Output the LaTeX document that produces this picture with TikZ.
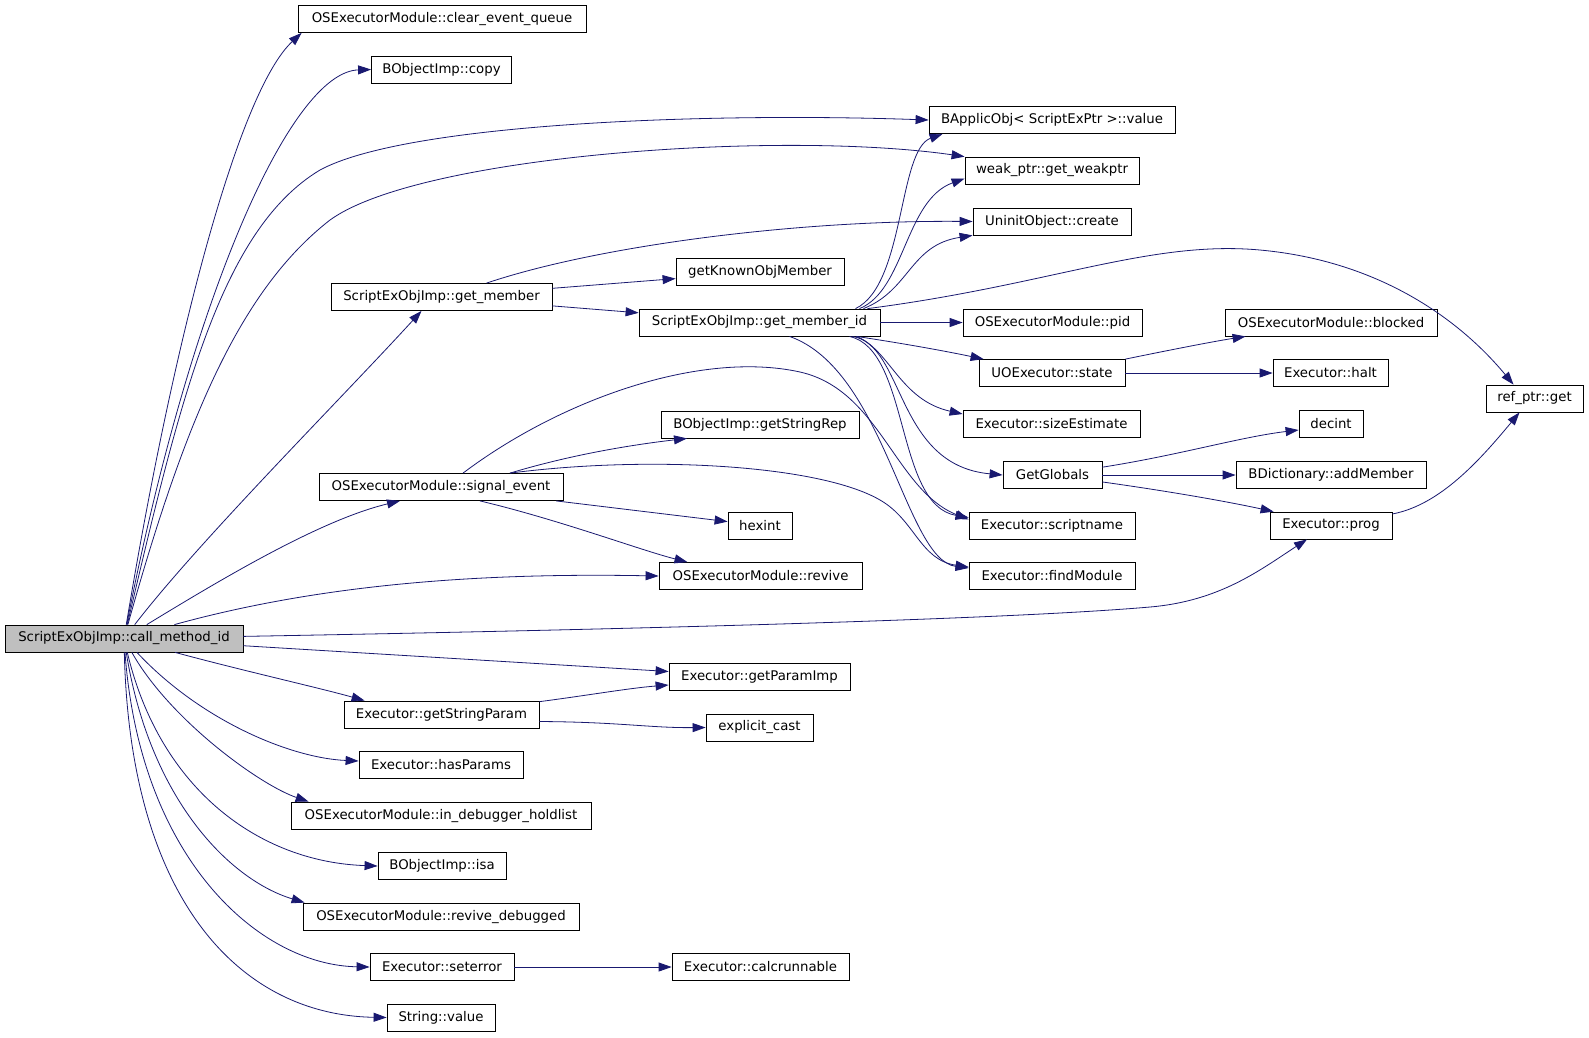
\documentclass[tikz,border=0pt]{standalone}
\usepackage{fontspec}
\setmainfont{DejaVu Sans}
\usetikzlibrary{arrows.meta}
\definecolor{edgeblue}{HTML}{191970}

\begin{document}
\begin{tikzpicture}[x=1pt,y=-1pt,
  fn/.style={draw,fill=white,line width=0.8pt,minimum width=#1pt,minimum height=27pt,
    inner sep=0pt,font=\fontsize{13.3}{16}\selectfont},
  calls/.style={draw=edgeblue,line width=0.8pt,-{Triangle[length=13pt,width=9pt]}}]

\path[use as bounding box,fill=white] (0,0) rectangle (1589,1037);

% column 1 and 2
\node[fn=238,fill=black!25] (cm) at (124,638.5) {ScriptExObjImp::call\_method\_id};
\node[fn=288] (clrq)     at (442,19)    {OSExecutorModule::clear\_event\_queue};
\node[fn=140] (copy)     at (441.5,69.5) {BObjectImp::copy};
\node[fn=221] (getm)     at (441.5,297) {ScriptExObjImp::get\_member};
\node[fn=244] (sigev)    at (441,487)   {OSExecutorModule::signal\_event};
\node[fn=195] (strparam) at (441.5,714.5) {Executor::getStringParam};
\node[fn=164] (hasparam) at (441,765)   {Executor::hasParams};
\node[fn=300] (holdlist) at (441,815.5) {OSExecutorModule::in\_debugger\_holdlist};
\node[fn=128] (isa)      at (442,866)   {BObjectImp::isa};
\node[fn=276] (revdbg)   at (441,916.5) {OSExecutorModule::revive\_debugged};
\node[fn=144] (seterr)   at (442,967)   {Executor::seterror};
\node[fn=108] (strval)   at (441,1017.5) {String::value};

% column 3
\node[fn=168] (gkom)    at (760,272)   {getKnownObjMember};
\node[fn=241] (getmid)  at (759.5,322.5) {ScriptExObjImp::get\_member\_id};
\node[fn=198] (strrep)  at (760,424.5) {BObjectImp::getStringRep};
\node[fn=64]  (hexint)  at (760,525.5) {hexint};
\node[fn=203] (revive)  at (760.5,576) {OSExecutorModule::revive};
\node[fn=181] (parimp)  at (759.5,677) {Executor::getParamImp};
\node[fn=107] (xcast)   at (759.5,727.5) {explicit\_cast};
\node[fn=177] (calcrun) at (760.5,967) {Executor::calcrunnable};

% column 4
\node[fn=246] (bval)    at (1052,120)   {BApplicObj< ScriptExPtr >::value};
\node[fn=174] (wptr)    at (1052,170.5) {weak\_ptr::get\_weakptr};
\node[fn=158] (uninit)  at (1052,221.5) {UninitObject::create};
\node[fn=179] (pid)     at (1052.5,322.5) {OSExecutorModule::pid};
\node[fn=146] (state)   at (1052,373)   {UOExecutor::state};
\node[fn=177] (sizeest) at (1051.5,424) {Executor::sizeEstimate};
\node[fn=99]  (globals) at (1052.5,475) {GetGlobals};
\node[fn=166] (scrname) at (1052,525.5) {Executor::scriptname};
\node[fn=166] (findmod) at (1052,576)   {Executor::findModule};

% column 5 and 6
\node[fn=212] (blocked) at (1331,322.5) {OSExecutorModule::blocked};
\node[fn=115] (halt)    at (1330.5,373) {Executor::halt};
\node[fn=64]  (decint)  at (1331,424)   {decint};
\node[fn=190] (addmem)  at (1331,475)   {BDictionary::addMember};
\node[fn=122] (prog)    at (1331,525.5) {Executor::prog};
\node[fn=97]  (refget)  at (1534.5,398.5) {ref\_ptr::get};

% calls from call_method_id
\draw[calls] (cm) .. controls (175,330) and (240,90) .. ([xshift=4]clrq.south west);
\draw[calls] (cm) .. controls (190,300) and (290,72) .. (copy.west);
\draw[calls] (cm) .. controls (180,400) and (220,230) .. (320,170)
   .. controls (405,124) and (700,112) .. (bval.west);
\draw[calls] (cm) .. controls (185,420) and (240,290) .. (330,220)
   .. controls (420,155) and (780,130) .. (wptr.north west);
\draw[calls] (cm) .. controls (200,540) and (340,400) .. ([xshift=-20]getm.south);
\draw[calls] (cm) .. controls (220,580) and (320,520) .. ([xshift=-41]sigev.south);
\draw[calls] (cm) .. controls (300,590) and (450,572) .. (revive.west);
\draw[calls] (cm) .. controls (600,630) and (1000,620) .. (1150,607)
   .. controls (1220,601) and (1260,570) .. ([xshift=-24]prog.south);
\draw[calls] (cm) -- (parimp);
\draw[calls] (cm) .. controls (240,670) and (320,688) .. ([xshift=21]strparam.north west);
\draw[calls] (cm) .. controls (200,720) and (290,758) .. ([yshift=4]hasparam.west);
\draw[calls] (cm) .. controls (170,720) and (260,785) .. ([xshift=18]holdlist.north west);
\draw[calls] (cm) .. controls (160,790) and (260,862) .. (isa.west);
\draw[calls] (cm) .. controls (150,800) and (230,880) .. ([xshift=2]revdbg.north west);
\draw[calls] (cm) .. controls (140,860) and (260,965) .. (seterr.west);
\draw[calls] (cm) .. controls (130,900) and (240,1015) .. (strval.west);

% calls from get_member
\draw[calls] ([xshift=45]getm.north) .. controls (600,245) and (800,220) .. (uninit.west);
\draw[calls] (getm) -- (gkom);
\draw[calls] (getm) -- (getmid);

% calls from get_member_id
\draw[calls] (getmid) -- (pid);
\draw[calls] ([xshift=96]getmid.north) .. controls (905,285) and (898,150) .. ([xshift=14]bval.south west);
\draw[calls] ([xshift=100]getmid.north) .. controls (905,290) and (905,200) .. ([yshift=-8]wptr.west);
\draw[calls] ([xshift=104]getmid.north) .. controls (910,290) and (910,245) .. (uninit.south west);
\draw[calls] ([xshift=108]getmid.north) .. controls (1050,285) and (1150,240) .. (1260,250)
   .. controls (1380,261) and (1460,320) .. ([xshift=-21]refget.north);
\draw[calls] ([xshift=97]getmid.south) .. controls (900,343) and (940,350) .. ([xshift=5]state.north west);
\draw[calls] ([xshift=97]getmid.south) .. controls (890,350) and (900,400) .. ([yshift=10]sizeest.west);
\draw[calls] ([xshift=93]getmid.south) .. controls (905,345) and (895,465) .. (globals.west);
\draw[calls] ([xshift=90]getmid.south) .. controls (910,350) and (895,505) .. ([yshift=8]scrname.west);
\draw[calls] ([xshift=30]getmid.south) .. controls (885,370) and (905,560) .. ([yshift=8]findmod.west);

% calls from signal_event
\draw[calls] ([xshift=22]sigev.north) .. controls (560,400) and (700,350) .. (800,372)
   .. controls (880,390) and (895,490) .. ([yshift=6]scrname.west);
\draw[calls] ([xshift=69]sigev.north) .. controls (650,455) and (820,465) .. (880,500)
   .. controls (915,520) and (920,560) .. ([yshift=9]findmod.west);
\draw[calls] ([xshift=69]sigev.north) .. controls (570,455) and (630,445) .. ([xshift=-73]strrep.south);
\draw[calls] (sigev) -- (hexint);
\draw[calls] ([xshift=39]sigev.south) .. controls (560,520) and (640,550) .. ([xshift=-73]revive.north);

% the rest
\draw[calls] (state.north east) .. controls (1160,352) and (1210,342) .. ([xshift=21]blocked.south west);
\draw[calls] (state) -- (halt);
\draw[calls] (globals) .. controls (1180,455) and (1240,437) .. ([yshift=-6]decint.west);
\draw[calls] (globals) -- (addmem);
\draw[calls] (globals) .. controls (1160,490) and (1220,500) .. ([xshift=4]prog.north west);
\draw[calls] (prog) .. controls (1440,505) and (1480,460) .. ([xshift=-15]refget.south);
\draw[calls] (strparam) .. controls (590,695) and (630,688) .. ([yshift=-8]parimp.west);
\draw[calls] ([yshift=-7]strparam.east) .. controls (620,722) and (650,728) .. (xcast.west);
\draw[calls] (seterr) -- (calcrun);

\end{tikzpicture}
\end{document}
